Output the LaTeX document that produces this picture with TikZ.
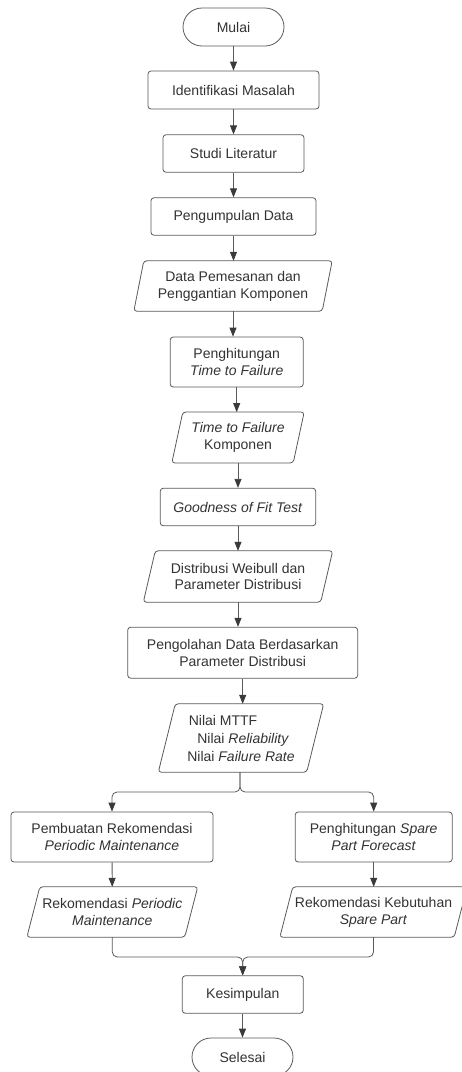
\documentclass[tikz,border=0pt]{standalone}
\usepackage{fontspec}
\setmainfont{Liberation Sans}
\usetikzlibrary{arrows.meta,calc}
\definecolor{ln}{HTML}{5A5A5A}
\definecolor{ah}{HTML}{3A3A3A}
\definecolor{tx}{HTML}{333333}
\newcommand\drawpara[2]{\draw[shapeline] ([xshift=#2]#1.north west) -- ([xshift=#2]#1.north east) -- ([xshift=-#2]#1.south east) -- ([xshift=-#2]#1.south west) -- cycle;}
\begin{document}
\begin{tikzpicture}[x=1pt,y=-1pt,
  base/.style={font=\fontsize{14}{16.8}\selectfont, text=tx, inner sep=0pt, align=center},
  shapeline/.style={draw=ln, line width=0.8pt, rounded corners=3pt},
  proc/.style 2 args={base, shapeline, minimum width=#1pt, minimum height=#2pt},
  term/.style 2 args={base, draw=ln, line width=0.8pt, rounded corners=19pt, minimum width=#1pt, minimum height=#2pt},
  io/.style 2 args={base, minimum width=#1pt, minimum height=#2pt},
  arr/.style={draw=ln, line width=0.8pt, -{Triangle[width=7pt,length=9pt,color=ah]}},
  conn/.style={draw=ln, line width=0.8pt}
]
\fill[white] (0,0) rectangle (461,1072);
\useasboundingbox (0,0) rectangle (461,1072);

\node[term={101}{38}] (n1) at (233.5,27) {Mulai};
\node[proc={171}{38}] (n2) at (233.5,90) {Identifikasi Masalah};
\node[proc={141}{37.5}] (n3) at (233.5,153.5) {Studi Literatur};
\node[proc={165}{37.5}] (n4) at (233.5,216.5) {Pengumpulan Data};
\node[io={188}{50}] (n5) at (233,286) {Data Pemesanan dan\\Penggantian Komponen};
\drawpara{n5}{5pt}
\node[proc={133}{50}] (n6) at (236.7,362) {Penghitungan\\\textit{Time to Failure}};
\node[io={121}{50.5}] (n7) at (238,437.5) {\textit{Time to Failure}\\Komponen};
\drawpara{n7}{5.5pt}
\node[proc={155.5}{37.5}] (n8) at (238,507) {\textit{Goodness of Fit Test}};
\node[io={177}{51}] (n9) at (238,576.5) {Distribusi Weibull dan\\Parameter Distribusi};
\drawpara{n9}{6pt}
\node[proc={230}{51}] (n10) at (242.7,652.7) {Pengolahan Data Berdasarkan\\Parameter Distribusi};
\node[io={148}{68}, align=left, font=\fontsize{14}{18}\selectfont] (n11) at (241,738) {\hspace*{1.5pt}Nilai MTTF\\\hspace*{10pt}Nilai \textit{Reliability}\\Nilai \textit{Failure Rate}};
\drawpara{n11}{8.5pt}
\node[proc={202}{50}] (n12) at (112,837) {Pembuatan Rekomendasi\\\textit{Periodic Maintenance}};
\node[proc={157}{50}] (n13) at (373.7,837) {Penghitungan \textit{Spare}\\\textit{Part Forecast}};
\node[io={157.5}{50}] (n14) at (112.3,912) {Rekomendasi \textit{Periodic}\\\textit{Maintenance}};
\drawpara{n14}{6.5pt}
\node[io={174}{50}] (n15) at (373.5,912) {Rekomendasi Kebutuhan\\\textit{Spare Part}};
\drawpara{n15}{6.5pt}
\node[proc={121}{37.5}] (n16) at (242.8,994.5) {Kesimpulan};
\node[term={101}{38}] (n17) at (242.5,1057) {Selesai};

\coordinate (b1) at (240,792);
\coordinate (m1) at (242.7,957);

\draw[arr] (n1) -- (n2);
\draw[arr] (n2) -- (n3);
\draw[arr] (n3) -- (n4);
\draw[arr] (n4.south) -- (n4.south |- n5.north);
\draw[arr] (n5.south) -- (n5.south |- n6.north);
\draw[arr] (n6.south) -- (n6.south |- n7.north);
\draw[arr] (n7.south) -- (n7.south |- n8.north);
\draw[arr] (n8.south) -- (n8.south |- n9.north);
\draw[arr] (n9.south) -- (n9.south |- n10.north);
\draw[arr] (n10.south) -- (n10.south |- n11.north);
\draw[arr, rounded corners=5pt] (n11.south -| b1) -- (b1) -| (n12.north);
\draw[arr, rounded corners=5pt] (n11.south -| b1) -- (b1) -| (n13.north);
\draw[arr] (n12) -- (n14);
\draw[arr] (n13.south) -- (n13.south |- n15.north);
\draw[arr, rounded corners=5pt] (n14.south) |- (m1) -- (n16.north -| m1);
\draw[arr, rounded corners=5pt] (n15.south) |- (m1) -- (n16.north -| m1);
\draw[arr] (n16.south -| n17) -- (n17.north);
\end{tikzpicture}
\end{document}
